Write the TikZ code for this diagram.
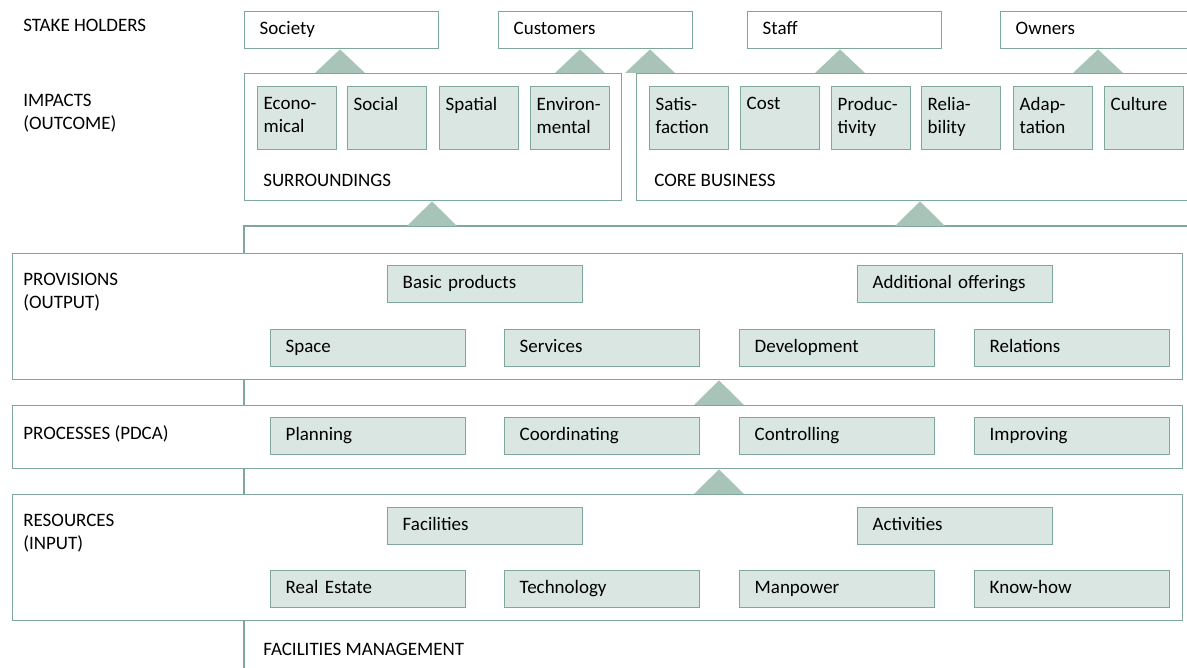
\documentclass[tikz,border=0pt]{standalone}
\usepackage{fontspec}
\setmainfont{Carlito}
\definecolor{fmline}{HTML}{7FA898}
\definecolor{fmcell}{HTML}{D9E6E1}
\definecolor{fmtri}{HTML}{A8C4B8}
\newcommand{\celltop}[1]{\parbox[c][0.84cm][t]{1.34cm}{\raggedright #1}}

\begin{document}
\begin{tikzpicture}[x=0.02cm, y=-0.02cm, font=\fontsize{10.8}{13}\selectfont,
  holder/.style={draw=fmline, line width=0.8pt, fill=white, anchor=north west,
    text width=3.28cm, inner xsep=0.3cm, minimum height=0.74cm, align=left,
    execute at begin node=\strut},
  cell/.style={holder, fill=fmcell, text width=3.3cm},
  impact/.style={draw=fmline, line width=0.8pt, fill=fmcell, anchor=north west,
    inner sep=0.12cm, minimum width=1.58cm, minimum height=1.26cm},
  band/.style={draw=fmline, line width=0.8pt, fill=white, anchor=north west, inner sep=0},
  lbl/.style={anchor=west, inner sep=0, align=left},
  tri/.style={fill=fmtri}]
\useasboundingbox (0,0) rectangle (1187,668);
\clip (0,0) rectangle (1187,668);

% facilities management frame
\coordinate (fmtop) at (244,226);
\coordinate (fmend) at (1200,226);
\coordinate (fmfoot) at (244,680);
\draw[fmline, line width=0.8pt] (fmend) -- (fmtop) -- (fmfoot);

% stake holders
\node[lbl] (lsh) at (23,25) {STAKE HOLDERS};
\node[holder] (soc) at (244,11) {Society};
\node[holder] (cus) at (498,11) {Customers};
\node[holder] (sta) at (747,11) {Staff};
\node[holder] (own) at (1000,11) {Owners};

% impacts
\node[lbl] (limp) at (23,113) {IMPACTS\\(OUTCOME)};
\node[band, minimum width=7.54cm, minimum height=2.54cm] (sur) at (244,73) {};
\node[band, minimum width=11.28cm, minimum height=2.54cm] (core) at (636,73) {};
\node[impact] (eco) at (257,86) {\celltop{Econo-\\mical}};
\node[impact] (soci) at (347,86) {\celltop{Social}};
\node[impact] (spa) at (439,86) {\celltop{Spatial}};
\node[impact] (env) at (530,86) {\celltop{Environ-\\mental}};
\node[impact] (sat) at (649,86) {\celltop{Satis-\\faction}};
\node[impact] (cost) at (740,86) {\celltop{Cost}};
\node[impact] (pro) at (831,86) {\celltop{Produc-\\tivity}};
\node[impact] (rel) at (921,86) {\celltop{Relia-\\bility}};
\node[impact] (ada) at (1013,86) {\celltop{Adap-\\tation}};
\node[impact] (cul) at (1104,86) {\celltop{Culture}};
\node[lbl] (lsur) at (263,180) {SURROUNDINGS};
\node[lbl] (lcore) at (654,180) {CORE BUSINESS};

% provisions
\node[band, minimum width=23.4cm, minimum height=2.52cm] (prov) at (12,253) {};
\node[lbl] (lprov) at (23,292) {PROVISIONS\\(OUTPUT)};
\node[cell] (basic) at (387,265) {Basic products};
\node[cell] (addi) at (857,265) {Additional offerings};
\node[cell] (space) at (270,329) {Space};
\node[cell] (serv) at (504,329) {Services};
\node[cell] (devl) at (739,329) {Development};
\node[cell] (rela) at (974,329) {Relations};

% processes
\node[band, minimum width=23.4cm, minimum height=1.26cm] (proc) at (12,405) {};
\node[lbl] (lproc) at (23,434) {PROCESSES (PDCA)};
\node[cell] (plan) at (270,417) {Planning};
\node[cell] (coor) at (504,417) {Coordinating};
\node[cell] (cont) at (739,417) {Controlling};
\node[cell] (impr) at (974,417) {Improving};

% resources
\node[band, minimum width=23.4cm, minimum height=2.52cm] (res) at (12,494) {};
\node[lbl] (lres) at (23,533) {RESOURCES\\(INPUT)};
\node[cell] (faci) at (387,507) {Facilities};
\node[cell] (acti) at (857,507) {Activities};
\node[cell] (real) at (270,570) {Real Estate};
\node[cell] (tech) at (504,570) {Technology};
\node[cell] (manp) at (739,570) {Manpower};
\node[cell] (know) at (974,570) {Know-how};
\node[lbl] (lfm) at (263,649) {FACILITIES MANAGEMENT};

% triangles
\fill[tri] (soc.south -| 340,0) -- (sur.north -| 315,0) -- (sur.north -| 365,0) -- cycle;
\fill[tri] (cus.south -| 580,0) -- (sur.north -| 555,0) -- (sur.north -| 605,0) -- cycle;
\fill[tri] (cus.south -| 650,0) -- (core.north -| 625,0) -- (core.north -| 675,0) -- cycle;
\fill[tri] (sta.south -| 840,0) -- (core.north -| 815,0) -- (core.north -| 865,0) -- cycle;
\fill[tri] (own.south -| 1098,0) -- (core.north -| 1073,0) -- (core.north -| 1123,0) -- cycle;
\fill[tri] (sur.south -| 432,0) -- (fmtop -| 407,0) -- (fmtop -| 457,0) -- cycle;
\fill[tri] (core.south -| 920,0) -- (fmtop -| 895,0) -- (fmtop -| 945,0) -- cycle;
\fill[tri] (prov.south -| 719,0) -- (proc.north -| 694,0) -- (proc.north -| 744,0) -- cycle;
\fill[tri] (proc.south -| 719,0) -- (res.north -| 694,0) -- (res.north -| 744,0) -- cycle;
\end{tikzpicture}
\end{document}
